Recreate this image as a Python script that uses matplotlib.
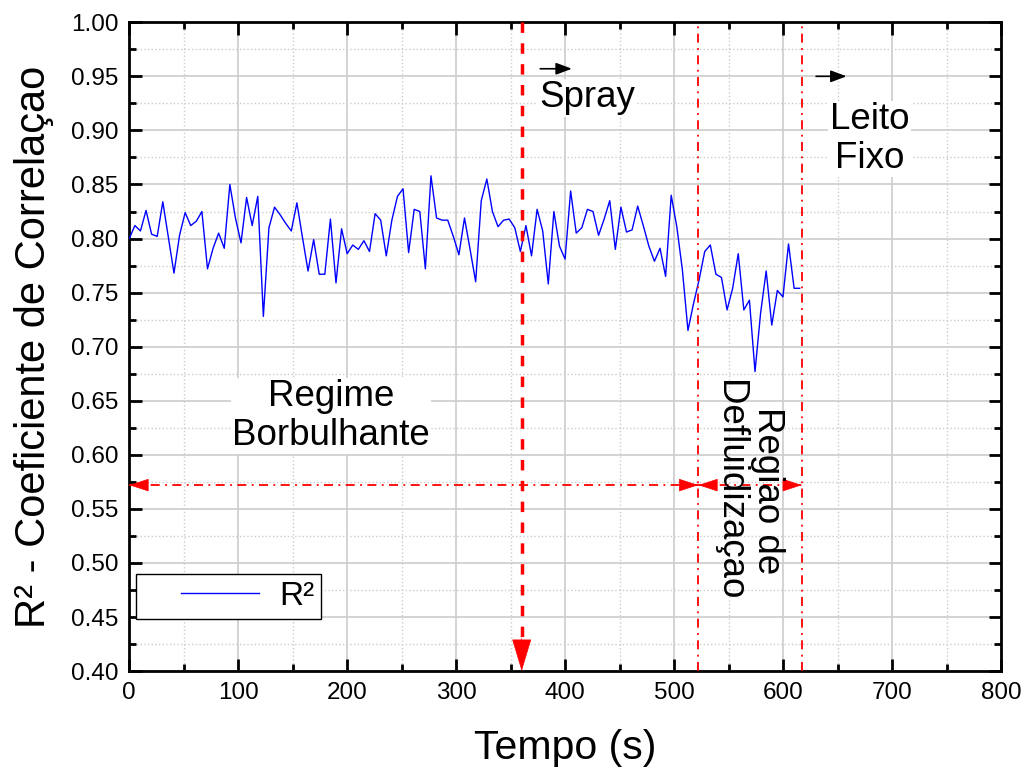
import numpy as np
import matplotlib
matplotlib.use("Agg")
from matplotlib import pyplot as plt
from matplotlib.ticker import MultipleLocator, FormatStrFormatter

plt.rcParams['font.family'] = ['Liberation Sans', 'DejaVu Sans']

# R² values (one sample about every 5 s, 0 .. 615 s)
r2 = [0.800, 0.812, 0.807, 0.826, 0.804, 0.802, 0.834, 0.801, 0.768, 0.803,
      0.824, 0.812, 0.816, 0.825, 0.772, 0.791, 0.805, 0.791, 0.850, 0.819,
      0.796, 0.838, 0.812, 0.839, 0.728, 0.810, 0.829, 0.822, 0.814, 0.807,
      0.833, 0.801, 0.770, 0.799, 0.767, 0.767, 0.818, 0.759, 0.809, 0.786,
      0.794, 0.790, 0.798, 0.788, 0.823, 0.817, 0.784, 0.817, 0.839, 0.846,
      0.787, 0.827, 0.825, 0.772, 0.858, 0.819, 0.817, 0.817, 0.802, 0.785,
      0.819, 0.790, 0.760, 0.835, 0.855, 0.825, 0.811, 0.817, 0.818, 0.810,
      0.788, 0.812, 0.784, 0.827, 0.807, 0.758, 0.825, 0.793, 0.781, 0.844,
      0.805, 0.810, 0.827, 0.825, 0.803, 0.818, 0.835, 0.790, 0.829, 0.806,
      0.808, 0.830, 0.812, 0.793, 0.779, 0.791, 0.765, 0.840, 0.811, 0.771,
      0.715, 0.740, 0.762, 0.788, 0.794, 0.767, 0.764, 0.734, 0.754, 0.786,
      0.734, 0.743, 0.677, 0.731, 0.770, 0.720, 0.752, 0.746, 0.795, 0.754,
      0.754]
t_start, t_end = 0, 615
tempo = np.linspace(t_start, t_end, len(r2))

# event times (s) and level of the region arrows
spray_t = 360
defl_t = 522
fixo_t = 617
arrow_y = 0.572

fig = plt.figure(figsize=(10.26, 7.67), dpi=100)
ax = fig.add_axes([0.126, 0.125, 0.850, 0.846])

ax.plot(tempo, r2, color='#0000ff', lw=1.0, label='R²', zorder=3)

ax.set_xlim(0, 800)
ax.set_ylim(0.40, 1.00)
ax.xaxis.set_major_locator(MultipleLocator(100))
ax.xaxis.set_minor_locator(MultipleLocator(50))
ax.yaxis.set_major_locator(MultipleLocator(0.05))
ax.yaxis.set_minor_locator(MultipleLocator(0.025))
ax.yaxis.set_major_formatter(FormatStrFormatter('%.2f'))
ax.grid(which='major', color='#cccccc', lw=1.2, ls='-')
ax.grid(which='minor', color='#cccccc', lw=1.0, ls=':')
ax.set_axisbelow(True)
ax.tick_params(which='both', direction='in', top=True, right=True,
               labelsize=17.5, width=2)
ax.tick_params(which='major', length=9, pad=8)
ax.tick_params(which='minor', length=5)
for s in ax.spines.values():
    s.set_linewidth(2)

ax.set_xlabel('Tempo (s)', fontsize=29.5, labelpad=18)
ax.set_ylabel('R² - Coeficiente de Correlaçao', fontsize=30, labelpad=12)

# spray line with arrow down
ax.plot([spray_t, spray_t], [1.00, 0.425], color='red', lw=2.5,
        ls=(0, (3, 3)), zorder=4)
ax.annotate('', xy=(spray_t, 0.400), xytext=(spray_t, 0.43),
            arrowprops=dict(arrowstyle='-|>,head_length=0.4,head_width=0.12',
                            mutation_scale=54, color='red', lw=0.5,
                            shrinkA=0, shrinkB=0), zorder=5)

# region boundaries
for xv in (defl_t, fixo_t):
    ax.axvline(xv, color='red', lw=1.3, ls=(0, (5, 3, 1, 3)), zorder=4)

# horizontal region arrows
for x0, x1 in ((0, defl_t), (defl_t, fixo_t)):
    ax.plot([x0, x1], [arrow_y, arrow_y], color='red', lw=1.3,
            ls=(0, (5, 3, 1, 3)), zorder=4)
    for a, b in ((x1, x0), (x0, x1)):
        ax.annotate('', xy=(b, arrow_y), xytext=(b + (a - b) * 0.01, arrow_y),
                    arrowprops=dict(arrowstyle='-|>,head_length=0.4,head_width=0.13',
                                    mutation_scale=32, color='red', lw=0.5,
                                    shrinkA=0, shrinkB=0), zorder=5)

# small black arrows
ax.annotate('', xy=(406, 0.957), xytext=(377, 0.957),
            arrowprops=dict(arrowstyle='-|>,head_length=0.4,head_width=0.15',
                            mutation_scale=24, color='black', lw=1.2,
                            shrinkA=0, shrinkB=0))
ax.annotate('', xy=(658, 0.950), xytext=(630, 0.950),
            arrowprops=dict(arrowstyle='-|>,head_length=0.4,head_width=0.15',
                            mutation_scale=24, color='black', lw=1.2,
                            shrinkA=0, shrinkB=0))

box = dict(facecolor='white', edgecolor='none', pad=1)
ax.text(376, 0.930, 'Spray', fontsize=26.5, ha='left', va='center', bbox=box)
ax.text(679, 0.892, 'Leito\nFixo', fontsize=26.5, ha='center', va='center',
        linespacing=1.12, bbox=box)
ax.text(185, 0.636, 'Regime\nBorbulhante', fontsize=26.5, ha='center',
        va='center', linespacing=1.12, bbox=box)
ax.text(568, 0.567, 'Regiao de\nDefluidizaçao', fontsize=26.5, ha='center',
        va='center', rotation=270, linespacing=1.12, zorder=6)

leg = ax.legend(loc='lower left', bbox_to_anchor=(0.008, 0.081), fontsize=24,
                fancybox=False, framealpha=1, edgecolor='black',
                handlelength=3.8, borderpad=0.2, handletextpad=0.3,
                borderaxespad=0)
leg.get_frame().set_linewidth(1.0)
ln = leg.get_lines()[0]
ln.set_linewidth(1.0)
hx = np.asarray(ln.get_xdata(), dtype=float)
hy = np.asarray(ln.get_ydata(), dtype=float)
hx0, hx1 = hx.min(), hx.max()
ln.set_data([hx0 + (hx1 - hx0) * 0.3, hx0 + (hx1 - hx0) * 0.92],
            [hy[0], hy[0]])

fig.savefig('out.png', dpi=100)
